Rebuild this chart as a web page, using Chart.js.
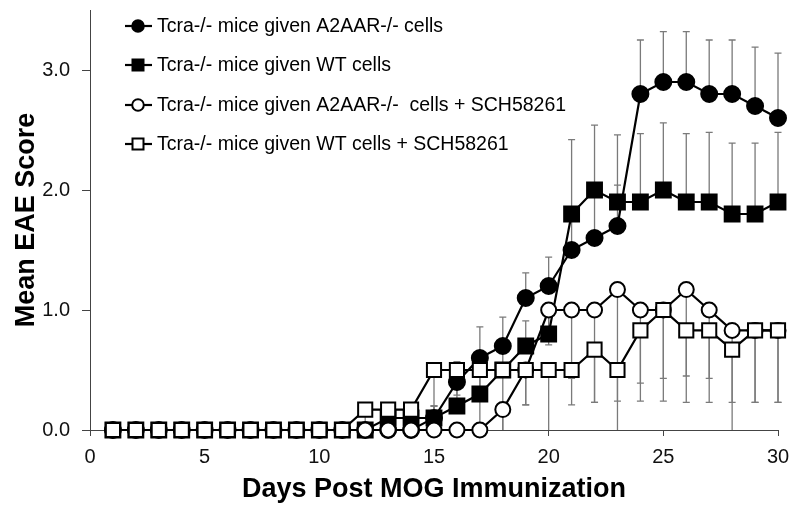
<!DOCTYPE html>
<html><head><meta charset="utf-8">
<script src="https://cdn.jsdelivr.net/npm/chart.js@4/dist/chart.umd.min.js"></script>
<style>html,body{margin:0;padding:0;background:#fff}canvas{display:block}</style>
</head><body>
<canvas id="c" width="800" height="521"></canvas>
<script>
// ---- data ----
const days = [1,2,3,4,5,6,7,8,9,10,11,12,13,14,15,16,17,18,19,20,21,22,23,24,25,26,27,28,29,30];
const seriesLabels = [
  "Tcra-/- mice given A2AAR-/- cells",
  "Tcra-/- mice given WT cells",
  "Tcra-/- mice given A2AAR-/-  cells + SCH58261",
  "Tcra-/- mice given WT cells + SCH58261"
];
const a2aar      = [0,0,0,0,0,0,0,0,0,0,0,0,0,0,0.1,0.4,0.6,0.7,1.1,1.2,1.5,1.6,1.7,2.8,2.9,2.9,2.8,2.8,2.7,2.6];
const wt         = [0,0,0,0,0,0,0,0,0,0,0,0,0.1,0.1,0.1,0.2,0.3,0.5,0.7,0.8,1.8,2.0,1.9,1.9,2.0,1.9,1.9,1.8,1.8,1.9];
const a2aarSch   = [0,0,0,0,0,0,0,0,0,0,0,0,0,0,0,0,0,0.17,0.5,1.0,1.0,1.0,1.17,1.0,1.0,1.17,1.0,0.83,0.83,0.83];
const wtSch      = [0,0,0,0,0,0,0,0,0,0,0,0.17,0.17,0.17,0.5,0.5,0.5,0.5,0.5,0.5,0.5,0.67,0.5,0.83,1.0,0.83,0.83,0.67,0.83,0.83];
// error bars: filled series drawn upward, open series drawn downward
const a2aarErrUp    = [0,0,0,0,0,0,0,0,0,0,0,0,0,0,0.1,0.17,0.26,0.24,0.21,0.24,0.3,0.35,0.34,0.45,0.42,0.42,0.45,0.45,0.49,0.54];
const wtErrUp       = [0,0,0,0,0,0,0,0,0,0,0,0,0.1,0.1,0.1,0.2,0.2,0.2,0.21,0.15,0.62,0.54,0.56,0.57,0.56,0.57,0.58,0.59,0.59,0.58];
const a2aarSchErrDn = [0,0,0,0,0,0,0,0,0,0,0,0,0,0,0,0,0,0.17,0.29,0.29,0.57,0.77,0.93,0.61,0.57,0.72,0.57,0.6,0.6,0.6];
const wtSchErrDn    = [0,0,0,0,0,0,0,0,0,0,0,0.17,0.17,0.17,0.5,0.21,0.5,0.5,0.29,0.5,0.29,0.44,0.5,0.59,0.76,0.6,0.6,0.67,0.6,0.6];
const yTickValues = [0,1,2,3];

const pts = arr => days.map((d,i)=>({x:d,y:arr[i]}));

const styles = [
  {style:'circle', r:8, fill:'#000', order:2},
  {style:'rect', r:10.5, fill:'#000', order:3},
  {style:'circle', r:7.5, fill:'#fff', order:1},
  {style:'rect', r:10, fill:'#fff', order:0}
];
const values = [a2aar, wt, a2aarSch, wtSch];
const errs = [
  {arr:a2aarErrUp, dir:1}, {arr:wtErrUp, dir:1},
  {arr:a2aarSchErrDn, dir:-1}, {arr:wtSchErrDn, dir:-1}
];

const datasets = values.map((v,i)=>({
  label: seriesLabels[i],
  data: pts(v),
  borderColor:'#000',
  borderWidth:2.2,
  pointStyle: styles[i].style,
  pointRadius: styles[i].r,
  pointHoverRadius: styles[i].r,
  pointBackgroundColor: styles[i].fill,
  pointBorderColor:'#000',
  pointBorderWidth:2,
  tension:0,
  fill:false,
  clip:false,
  order: styles[i].order
}));

const errorBarsPlugin = {
  id:'errorBars',
  beforeDatasetsDraw(chart){
    const {ctx, scales:{x,y}} = chart;
    ctx.save();
    ctx.strokeStyle = '#7a7a7a';
    ctx.lineWidth = 1.3;
    errs.forEach((e,si)=>{
      days.forEach((d,i)=>{
        const err = e.arr[i];
        if (!err) return;
        const v = values[si][i];
        const end = Math.max(0, v + e.dir*err);
        const px = x.getPixelForValue(d);
        const y0 = y.getPixelForValue(v);
        const y1 = y.getPixelForValue(end);
        ctx.beginPath();
        ctx.moveTo(px, y0); ctx.lineTo(px, y1);
        if (end > 0) { ctx.moveTo(px-3.5, y1); ctx.lineTo(px+3.5, y1); }
        ctx.stroke();
      });
    });
    ctx.restore();
  }
};

const legendPlugin = {
  id:'customLegend',
  afterDraw(chart){
    const ctx = chart.ctx;
    const rows = [26, 65, 105, 144];
    ctx.save();
    chart.data.datasets.forEach((ds,i)=>{
      const y = rows[i];
      ctx.strokeStyle='#000'; ctx.lineWidth=2.2;
      ctx.beginPath(); ctx.moveTo(125,y); ctx.lineTo(152,y); ctx.stroke();
      ctx.fillStyle = styles[i].fill; ctx.lineWidth=2;
      ctx.beginPath();
      if (styles[i].style==='circle') ctx.arc(138,y,5.8,0,Math.PI*2);
      else ctx.rect(132.5,y-5.5,11,11);
      ctx.fill(); ctx.stroke();
      ctx.fillStyle='#000';
      ctx.font='19.5px "Liberation Sans", Arial, sans-serif';
      ctx.textBaseline='middle';
      ctx.fillText(ds.label, 157, y+1);
    });
    ctx.restore();
  }
};

new Chart(document.getElementById('c'), {
  type:'line',
  data:{datasets},
  options:{
    responsive:false,
    animation:false,
    events:[],
    layout:{autoPadding:false, padding:{top:10,right:22,bottom:0,left:0}},
    plugins:{legend:{display:false}, tooltip:{enabled:false}},
    scales:{
      x:{
        type:'linear', min:0, max:30,
        ticks:{stepSize:5, color:'#111', padding:9, font:{family:'"Liberation Sans", Arial, sans-serif', size:20}},
        grid:{display:true, drawOnChartArea:false, drawTicks:true, tickLength:6, color:'#444', lineWidth:1},
        border:{display:true, color:'#444', width:1},
        title:{display:true, text:'Days Post MOG Immunization', color:'#000',
          font:{family:'"Liberation Sans", Arial, sans-serif', size:27, weight:'bold'}, padding:{top:0,bottom:15}},
        afterFit(s){ s.height = 91; }
      },
      y:{
        min:0, max:3.5,
        afterBuildTicks(s){ s.ticks = yTickValues.map(v=>({value:v})); },
        ticks:{color:'#111', padding:12, font:{family:'"Liberation Sans", Arial, sans-serif', size:20},
          callback:v=>Number(v).toFixed(1)},
        grid:{display:true, drawOnChartArea:false, drawTicks:true, tickLength:8, color:'#444', lineWidth:1},
        border:{display:true, color:'#444', width:1},
        title:{display:true, text:'Mean EAE Score', color:'#000',
          font:{family:'"Liberation Sans", Arial, sans-serif', size:27, weight:'bold'}, padding:{top:10,bottom:0}},
        afterFit(s){ s.width = 90; s.paddingTop = 0; }
      }
    }
  },
  plugins:[errorBarsPlugin, legendPlugin]
});
</script>
</body></html>
